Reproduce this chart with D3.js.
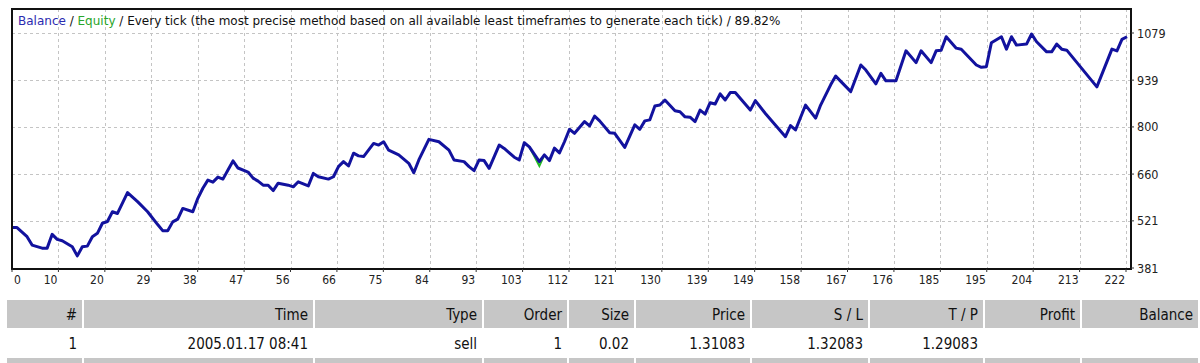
<!DOCTYPE html>
<html>
<head>
<meta charset="utf-8">
<style>
  body { margin: 0; background: #fff; }
  svg text { font-family: "DejaVu Sans Condensed", "DejaVu Sans", sans-serif; font-stretch: condensed; }
  svg text.title { font-family: "DejaVu Sans", sans-serif; font-stretch: normal; }
</style>
</head>
<body>
<svg width="1200" height="363"></svg>
<script src="https://d3js.org/d3.v7.min.js"></script>
<script>
  // trade number / balance
  var tradeNo = [0,1,3,4,6,7,8,9,10,12,
    13,14,15,16,17,18,19,20,21,23,
    25,27,29,30,31,32,33,34,36,37,
    38,39,40,41,42,43,44,45,47,48,
    49,50,51,52,53,55,56,57,59,60,
    61,63,64,65,66,67,68,69,70,72,
    73,74,75,77,79,80,81,83,85,87,
    88,90,91,92,93,94,95,97,98,100,
    101,102,103,105,106,107,108,109,110,111,
    112,114,115,116,117,119,120,122,124,125,
    126,127,128,129,130,132,133,134,135,136,
    137,138,139,140,141,142,143,144,147,148,
    150,154,155,156,158,160,161,163,164,167,
    169,170,172,173,174,176,178,180,181,183,
    184,185,186,188,189,192,193,194,195,197,
    198,199,200,202,203,204,206,207,208,209,
    210,216,219,220,221,222];

  var balance = [501,501,474,449,440,440,481,466,462,444,
    417,444,446,474,484,514,519,548,543,605,
    578,548,510,492,492,518,526,558,548,588,
    618,642,636,651,645,672,699,678,666,648,
    639,627,627,611,633,627,622,637,625,662,
    652,645,652,682,697,684,722,714,712,751,
    746,756,731,717,692,664,702,763,756,731,
    702,697,682,670,702,700,677,746,736,710,
    702,753,741,697,717,700,737,723,756,793,
    781,816,803,832,818,783,781,739,806,793,
    818,821,862,865,880,848,845,830,829,816,
    850,838,872,868,898,880,902,902,850,878,
    840,771,804,791,865,826,865,925,951,905,
    984,969,928,959,937,937,1026,991,1026,991,
    1026,1028,1068,1034,1031,984,977,979,1050,1068,
    1031,1068,1043,1046,1076,1053,1023,1023,1046,1031,
    1028,919,1031,1026,1060,1068];

  // equity only shows where it differs from balance
  var equityTrade = [103, 105, 106];
  var equityValue = [741, 684, 717];

  var xTickLabels = ["0","10","20","29","38","47","56","66","75","84","93","103","112",
    "121","130","139","149","158","167","176","185","195","204","213","222"];
  var yTicks = [381, 521, 660, 800, 939, 1079];

  var tableHeader = ["#","Time","Type","Order","Size","Price","S / L","T / P","Profit","Balance"];
  var tableRow = ["1","2005.01.17 08:41","sell","1","0.02","1.31083","1.32083","1.29083","",""];

  var svg = d3.select("svg");

  var plot = {left: 12, top: 9, right: 1131, bottom: 269};

  var x = d3.scaleLinear().domain([0, 222]).range([12, 1127]);
  var xTick = d3.scalePoint().domain(xTickLabels).range([12, 1126]);
  var y = d3.scaleLinear().domain([381, 1079]).range([268, 33]);

  // grid
  var grid = svg.append("g")
      .attr("stroke", "#c4c4c4")
      .attr("stroke-dasharray", "3,3")
      .attr("stroke-width", 1);

  grid.selectAll("line.v")
    .data(xTickLabels.slice(1))
    .enter().append("line")
      .attr("x1", function(d) { return Math.round(xTick(d)) + 0.5; })
      .attr("x2", function(d) { return Math.round(xTick(d)) + 0.5; })
      .attr("y1", plot.top)
      .attr("y2", plot.bottom);

  grid.selectAll("line.h")
    .data(yTicks.slice(1))
    .enter().append("line")
      .attr("x1", plot.left)
      .attr("x2", plot.right)
      .attr("y1", function(d) { return Math.round(y(d)) + 0.5; })
      .attr("y2", function(d) { return Math.round(y(d)) + 0.5; });

  // title
  var title = svg.append("text")
      .attr("class", "title")
      .attr("x", 18)
      .attr("y", 25)
      .attr("font-size", "12px")
      .style("white-space", "pre");
  title.append("tspan").attr("fill", "#2b2bb0").text("Balance");
  title.append("tspan").attr("fill", "#111").text(" / ");
  title.append("tspan").attr("fill", "#2aa52a").text("Equity");
  title.append("tspan").attr("fill", "#111")
      .text(" / Every tick (the most precise method based on all available least timeframes to generate each tick) / 89.82%");

  // lines
  var line = d3.line()
      .x(function(d) { return x(d[0]); })
      .y(function(d) { return y(d[1]); });

  svg.append("path")
      .datum(d3.zip(equityTrade, equityValue))
      .attr("fill", "none")
      .attr("stroke", "#22bb22")
      .attr("stroke-width", 2)
      .attr("d", line);

  svg.append("path")
      .datum(d3.zip(tradeNo, balance))
      .attr("fill", "none")
      .attr("stroke", "#12129e")
      .attr("stroke-width", 3)
      .attr("stroke-linejoin", "round")
      .attr("d", line);

  // frame
  svg.append("rect")
      .attr("x", plot.left)
      .attr("y", plot.top)
      .attr("width", plot.right - plot.left)
      .attr("height", plot.bottom - plot.top)
      .attr("fill", "none")
      .attr("stroke", "#111")
      .attr("stroke-width", 2);

  // x axis
  var xa = svg.append("g").attr("font-size", "12px").attr("fill", "#222");
  xa.selectAll("line")
    .data(xTickLabels)
    .enter().append("line")
      .attr("x1", function(d) { return xTick(d); })
      .attr("x2", function(d) { return xTick(d); })
      .attr("y1", plot.bottom)
      .attr("y2", plot.bottom + 3)
      .attr("stroke", "#333");
  xa.selectAll("text")
    .data(xTickLabels)
    .enter().append("text")
      .attr("x", function(d, i) { return i === 0 ? xTick(d) + 2 : xTick(d) - 1; })
      .attr("y", 284)
      .attr("text-anchor", function(d, i) { return i === 0 ? "start" : "end"; })
      .text(function(d) { return d; });

  // y axis
  var ya = svg.append("g").attr("font-size", "12.5px").attr("fill", "#222");
  ya.selectAll("line")
    .data(yTicks)
    .enter().append("line")
      .attr("x1", plot.right)
      .attr("x2", plot.right + 3)
      .attr("y1", function(d) { return y(d); })
      .attr("y2", function(d) { return y(d); })
      .attr("stroke", "#333");
  ya.selectAll("text")
    .data(yTicks)
    .enter().append("text")
      .attr("x", 1137)
      .attr("y", function(d) { return y(d) + 4.5; })
      .text(function(d) { return d; });

  // trades table
  var colLeft  = [7, 84, 315, 484, 569, 636, 752, 870, 985, 1082];
  var colRight = [82, 313, 482, 567, 634, 750, 868, 983, 1080, 1198];

  var table = svg.append("g").attr("font-size", "15px").attr("fill", "#111");
  var rows = [
    {top: 300, h: 28, fill: "#c6c6c6", cells: tableHeader},
    {top: 330, h: 26, fill: "#fff", cells: tableRow},
    {top: 358, h: 26, fill: "#c6c6c6", cells: []}
  ];
  rows.forEach(function(r) {
    var g = table.append("g");
    g.selectAll("rect")
      .data(colLeft)
      .enter().append("rect")
        .attr("x", function(d) { return d; })
        .attr("y", r.top)
        .attr("width", function(d, i) { return colRight[i] - d; })
        .attr("height", r.h)
        .attr("fill", r.fill);
    g.selectAll("text")
      .data(r.cells)
      .enter().append("text")
        .attr("x", function(d, i) { return colRight[i] - 5; })
        .attr("y", r.top + r.h / 2 + 5.5)
        .attr("text-anchor", "end")
        .text(function(d) { return d; });
  });
</script>
</body>
</html>
